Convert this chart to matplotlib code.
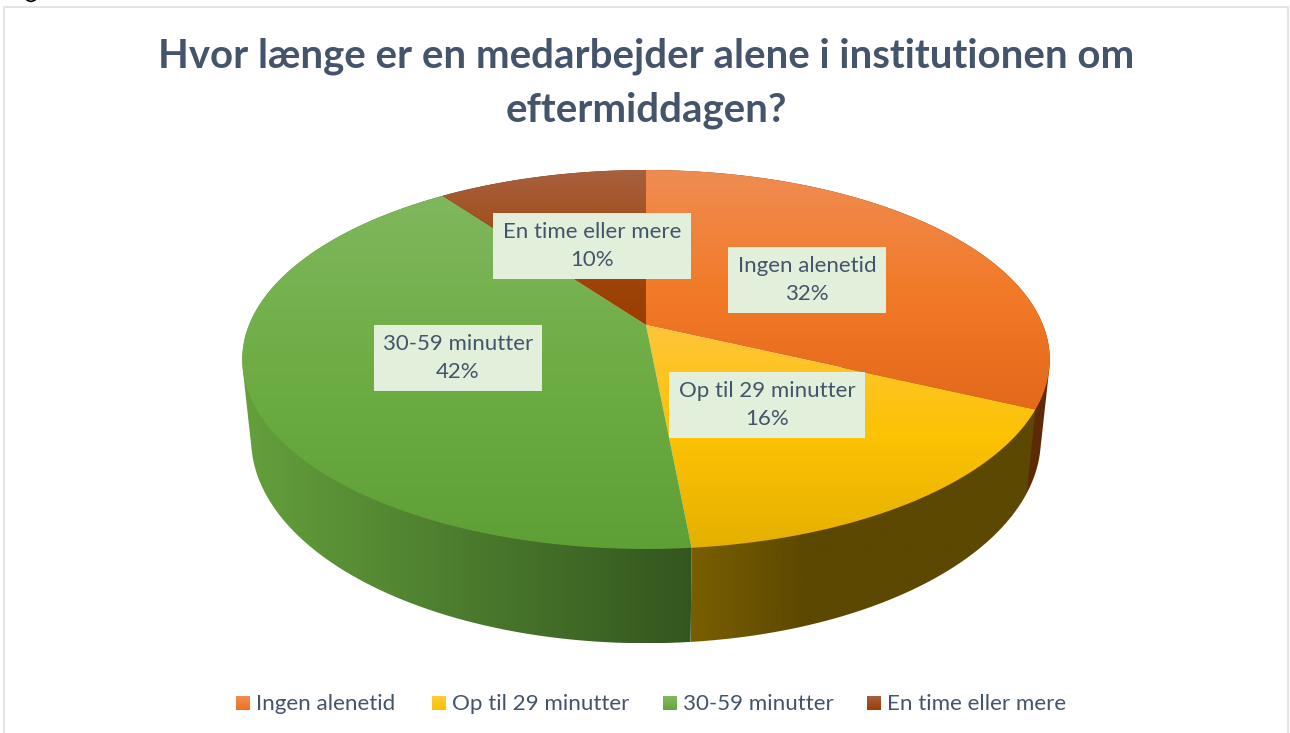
# -*- coding: utf-8 -*-
"""
3D looking pie chart, drawn by hand since matplotlib has no perspective pie
"""
import numpy as np
from matplotlib import pyplot as plt
from matplotlib.colors import LinearSegmentedColormap
from matplotlib.patches import Polygon

categories = ['Ingen alenetid', 'Op til 29 minutter', '30-59 minutter', 'En time eller mere']
values = [32.0, 16.5, 41.5, 10.0]
percent_labels = [32, 16, 42, 10]
title_lines = ['Hvor længe er en medarbejder alene i institutionen om', 'eftermiddagen?']

top_colors = [['#ef8c52', '#f27a28', '#e4691b'],
              ['#ffc53a', '#fcc203', '#e5b000'],
              ['#80b75e', '#6dad43', '#5fa036'],
              ['#a8603f', '#a04a12', '#9a3d00']]
side_colors = [['#7a3c0c', '#5c2a06'],
               ['#7a5e00', '#5c4800', '#5c4800', '#5c4800'],
               ['#64a03c', '#33561e'],
               ['#6b3208', '#6b3208']]
legend_colors = [['#f28e55', '#ee7020'],
                 ['#ffcb3a', '#fac000'],
                 ['#84b964', '#66a638'],
                 ['#a85f40', '#9a3d00']]
label_pos = [(807, 280), (767, 405), (458, 358), (592, 246)]
legend_x = [236, 432, 663, 867]

TEXT = '#44546A'
BOX = '#E2EFDA'
plt.rcParams['font.family'] = ['Lato', 'DejaVu Sans']

# perspective of the disc, pixels
CX, CY = 646, 325
PX, PY, PERSP = 397, 183.2, 0.182
SCALE_X, SCALE_Y, DEPTH = 0.978, 1.077, 77


def top_edge(theta):
    """ Point(s) on the top face rim, theta clockwise from 12 o'clock
    """
    w = 1 + PERSP * np.cos(theta)
    return CX + PX * np.sin(theta) / w, CY - PY * np.cos(theta) / w


def bottom_edge(theta):
    """ Same for the lower rim of the disc
    """
    x, y = top_edge(theta)
    return CX + (x - CX) * SCALE_X, CY + DEPTH + (y - CY) * SCALE_Y


def convex_hull(points):
    """ Hull of the two rim arcs, the inner chords end up under the top face anyway
    """
    pts = sorted(set(map(tuple, points)))

    def half(seq):
        out = []
        for p in seq:
            while len(out) > 1 and ((out[-1][0] - out[-2][0]) * (p[1] - out[-2][1])
                                    - (out[-1][1] - out[-2][1]) * (p[0] - out[-2][0])) <= 0:
                out.pop()
            out.append(p)
        return out[:-1]

    return np.array(half(pts) + half(pts[::-1]))


def fill_gradient(ax, poly_xy, colors, vertical=True):
    """ Fills a polygon with a linear gradient along y or x
    """
    poly = Polygon(poly_xy, closed=True, fc='none', ec='none', transform=ax.transData)
    ax.add_patch(poly)
    cmap = LinearSegmentedColormap.from_list('g', colors)
    x0, y0 = poly_xy.min(axis=0)
    x1, y1 = poly_xy.max(axis=0)
    grad = np.linspace(0, 1, 256)
    grad = grad[:, None] if vertical else grad[None, :]
    im = ax.imshow(grad, cmap=cmap, extent=(x0, x1, y1, y0), aspect='auto',
                   interpolation='bilinear', zorder=ax.zo)
    im.set_clip_path(poly)
    ax.zo += 0.01


fig = plt.figure(figsize=(12.9, 7.33), dpi=100)
ax = fig.add_axes([0, 0, 1, 1])
ax.zo = 2
ax.set_axis_off()

fractions = np.cumsum([0] + values) / sum(values)
angles = fractions * 2 * np.pi

for i in range(len(values)):
    t = np.linspace(angles[i], angles[i + 1], 200)
    tx, ty = top_edge(t)
    bx, by = bottom_edge(t)
    side = convex_hull(np.column_stack([np.r_[tx, bx], np.r_[ty, by]]))
    fill_gradient(ax, side, side_colors[i], vertical=False)

for i in range(len(values)):
    t = np.linspace(angles[i], angles[i + 1], 200)
    tx, ty = top_edge(t)
    wedge = np.column_stack([np.r_[CX, tx], np.r_[CY, ty]])
    fill_gradient(ax, wedge, top_colors[i])

# chart frame, bottom is cut off in the picture
ax.plot([4, 4, 1288, 1288], [733, 7, 7, 733], color='#e2e5ea', lw=1.5, zorder=1)
# leftover of the caption above the chart
ax.plot([27, 29, 31, 33, 35], [0, 1, 1.4, 1, 0], color='black', lw=1.2, zorder=1)

ax.text(646, 56, title_lines[0], fontsize=28.9, fontweight='bold', color=TEXT, ha='center', va='center')
ax.text(646, 110, title_lines[1], fontsize=28.9, fontweight='bold', color=TEXT, ha='center', va='center')

for name, p, (x, y) in zip(categories, percent_labels, label_pos):
    ax.text(x, y, '%s\n%d%%' % (name, p), fontsize=16, color=TEXT, ha='center', va='center',
            linespacing=1.5, zorder=10,
            bbox=dict(fc=BOX, ec='none', boxstyle='square,pad=0.42'))

for name, x, cols in zip(categories, legend_x, legend_colors):
    square = np.array([[x, 696], [x + 14, 696], [x + 14, 710], [x, 710]], dtype=float)
    fill_gradient(ax, square, cols)
    ax.text(x + 20, 704, name, fontsize=16.1, color=TEXT, ha='left', va='center')

ax.set_xlim(0, 1290)
ax.set_ylim(733, 0)
fig.savefig('out.png', dpi=100, facecolor='white')
